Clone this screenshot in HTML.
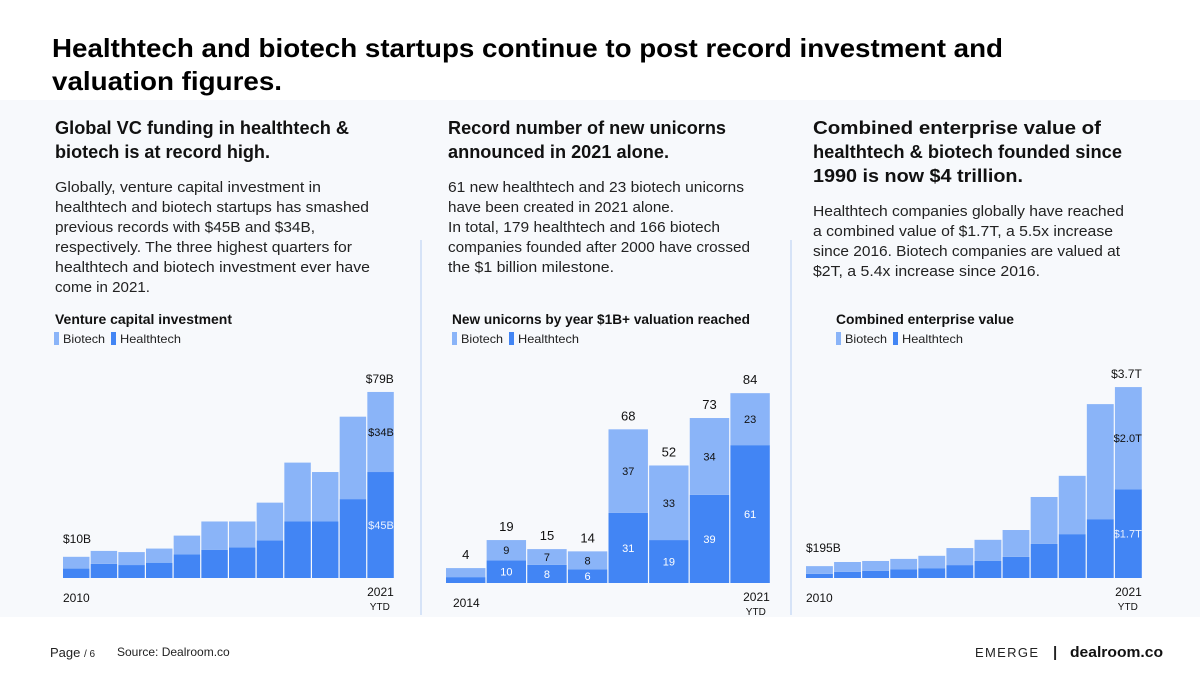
<!DOCTYPE html>
<html><head><meta charset="utf-8"><style>
html,body{margin:0;padding:0;background:#fff;}
svg{display:block;font-family:"Liberation Sans",sans-serif;}
</style></head><body>
<svg id="s" width="1200" height="675" viewBox="0 0 1200 675" xmlns="http://www.w3.org/2000/svg">
<rect x="0" y="0" width="1200" height="675" fill="#ffffff"/>
<rect x="0" y="100" width="1200" height="517" fill="#f7f9fc"/>
<line x1="421" y1="240" x2="421" y2="615" stroke="#d6e3f7" stroke-width="2"/>
<line x1="791" y1="240" x2="791" y2="615" stroke="#d6e3f7" stroke-width="2"/>

<g fill="#000" font-weight="bold">
<text x="52" y="57" font-size="26" textLength="951" lengthAdjust="spacingAndGlyphs">Healthtech and biotech  startups continue to post record investment and</text>
<text x="52" y="90" font-size="26" textLength="230" lengthAdjust="spacingAndGlyphs">valuation figures.</text>
</g>

<g fill="#111" font-weight="bold" font-size="18">
<text x="55" y="134" textLength="294" lengthAdjust="spacingAndGlyphs">Global VC funding in healthtech &amp;</text>
<text x="55" y="158" textLength="215" lengthAdjust="spacingAndGlyphs">biotech is at record high.</text>
<text x="448" y="134" textLength="278" lengthAdjust="spacingAndGlyphs">Record number of new unicorns</text>
<text x="448" y="158" textLength="221" lengthAdjust="spacingAndGlyphs">announced in 2021 alone.</text>
<text x="813" y="134" textLength="288" lengthAdjust="spacingAndGlyphs">Combined enterprise value of</text>
<text x="813" y="158" textLength="309" lengthAdjust="spacingAndGlyphs">healthtech &amp; biotech founded since</text>
<text x="813" y="182" textLength="210" lengthAdjust="spacingAndGlyphs">1990 is now $4 trillion.</text>
</g>

<g fill="#222" font-size="15">
<text x="55" y="192" textLength="266" lengthAdjust="spacingAndGlyphs">Globally, venture capital investment in</text>
<text x="55" y="212" textLength="314" lengthAdjust="spacingAndGlyphs">healthtech and biotech startups has smashed</text>
<text x="55" y="232" textLength="260" lengthAdjust="spacingAndGlyphs">previous records with $45B and $34B,</text>
<text x="55" y="252" textLength="297" lengthAdjust="spacingAndGlyphs">respectively. The three highest quarters for</text>
<text x="55" y="272" textLength="315" lengthAdjust="spacingAndGlyphs">healthtech and  biotech investment ever have</text>
<text x="55" y="292" textLength="95" lengthAdjust="spacingAndGlyphs">come in 2021.</text>
<text x="448" y="192" textLength="296" lengthAdjust="spacingAndGlyphs">61 new healthtech and 23 biotech unicorns</text>
<text x="448" y="212" textLength="226" lengthAdjust="spacingAndGlyphs">have been created in 2021 alone.</text>
<text x="448" y="232" textLength="272" lengthAdjust="spacingAndGlyphs">In total, 179 healthtech and 166 biotech</text>
<text x="448" y="252" textLength="302" lengthAdjust="spacingAndGlyphs">companies founded after 2000 have crossed</text>
<text x="448" y="272" textLength="166" lengthAdjust="spacingAndGlyphs">the $1 billion milestone.</text>
<text x="813" y="216" textLength="311" lengthAdjust="spacingAndGlyphs">Healthtech companies globally have reached</text>
<text x="813" y="236" textLength="300" lengthAdjust="spacingAndGlyphs">a combined value of $1.7T, a 5.5x increase</text>
<text x="813" y="256" textLength="307" lengthAdjust="spacingAndGlyphs">since 2016. Biotech companies are valued at</text>
<text x="813" y="276" textLength="227" lengthAdjust="spacingAndGlyphs">$2T, a 5.4x increase since 2016.</text>
</g>

<g font-size="14" font-weight="bold" fill="#111">
<text x="55" y="324" textLength="177" lengthAdjust="spacingAndGlyphs">Venture capital investment</text>
<text x="452" y="324" textLength="298" lengthAdjust="spacingAndGlyphs">New unicorns by year $1B+ valuation reached</text>
<text x="836" y="324" textLength="178" lengthAdjust="spacingAndGlyphs">Combined enterprise value</text>
</g>

<g font-size="12" fill="#222">
<g>
<rect x="54" y="332" width="5" height="13" fill="#8ab4f8"/>
<text x="63" y="343" textLength="42" lengthAdjust="spacingAndGlyphs">Biotech</text>
<rect x="111" y="332" width="5" height="13" fill="#4285f4"/>
<text x="120" y="343" textLength="61" lengthAdjust="spacingAndGlyphs">Healthtech</text>
</g>
<g>
<rect x="452" y="332" width="5" height="13" fill="#8ab4f8"/>
<text x="461" y="343" textLength="42" lengthAdjust="spacingAndGlyphs">Biotech</text>
<rect x="509" y="332" width="5" height="13" fill="#4285f4"/>
<text x="518" y="343" textLength="61" lengthAdjust="spacingAndGlyphs">Healthtech</text>
</g>
<g>
<rect x="836" y="332" width="5" height="13" fill="#8ab4f8"/>
<text x="845" y="343" textLength="42" lengthAdjust="spacingAndGlyphs">Biotech</text>
<rect x="893" y="332" width="5" height="13" fill="#4285f4"/>
<text x="902" y="343" textLength="61" lengthAdjust="spacingAndGlyphs">Healthtech</text>
</g>
</g>

<g id="charts"></g>

<g>
<text x="50" y="657" font-size="13" fill="#222">Page <tspan font-size="10">/ 6</tspan></text>
<text x="117" y="656" font-size="12" fill="#222">Source: Dealroom.co</text>
<text x="975" y="657" font-size="13" fill="#222" letter-spacing="3" textLength="66" lengthAdjust="spacing">EMERGE</text>
<text x="1053" y="657" font-size="15" fill="#222" font-weight="bold">|</text>
<text x="1070" y="657" font-size="15" fill="#111" font-weight="bold" textLength="93" lengthAdjust="spacingAndGlyphs">dealroom.co</text>
</g>
</svg>

<script>
// Chart 1: Venture capital investment ($B)
const vcYears = ["2010","2011","2012","2013","2014","2015","2016","2017","2018","2019","2020","2021"];
const vcBiotech = [5, 5.5, 5.5, 6, 8, 12, 11, 16, 25, 21, 35, 34];
const vcHealthtech = [4, 6, 5.5, 6.5, 10, 12, 13, 16, 24, 24, 33.5, 45];
// Chart 2: New unicorns
const uniYears = ["2014","2015","2016","2017","2018","2019","2020","2021"];
const uniBiotech = [4, 9, 7, 8, 37, 33, 34, 23];
const uniHealthtech = [2.6, 10, 8, 6, 31, 19, 39, 61];
const uniTotals = [4, 19, 15, 14, 68, 52, 73, 84];
// Chart 3: Combined enterprise value ($T)
const evYears = ["2010","2011","2012","2013","2014","2015","2016","2017","2018","2019","2020","2021"];
const evBiotech = [0.15, 0.19, 0.19, 0.2, 0.24, 0.33, 0.41, 0.52, 0.91, 1.13, 2.23, 1.98];
const evHealthtech = [0.08, 0.12, 0.14, 0.17, 0.19, 0.25, 0.33, 0.41, 0.66, 0.85, 1.14, 1.72];

const NS = "http://www.w3.org/2000/svg";
const root = document.getElementById("charts");
const LIGHT = "#8ab4f8", DARK = "#4285f4";

function mk(tag, attrs, parent) {
  const e = document.createElementNS(NS, tag);
  for (const k in attrs) e.setAttribute(k, attrs[k]);
  parent.appendChild(e);
  return e;
}
function label(parent, x, y, str, size, fill, anchor) {
  const t = mk("text", {x: x, y: y, "font-size": size, fill: fill, "text-anchor": anchor}, parent);
  t.textContent = str;
  
  
  return t;
}

function drawChart(cfg) {
  const g = mk("g", {}, root);
  
  
  const n = cfg.years.length;
  const step = (cfg.x1 - cfg.x0) / n;
  const w = step - 1.2;
  const xAt = i => cfg.x0 + i * step;
  const yAt = v => cfg.base - v * cfg.scale;
  for (let i = 0; i < n; i++) {
    const h = cfg.health[i], b = cfg.bio[i];
    const r1 = mk("rect", {x: xAt(i), y: yAt(h), width: w, height: cfg.base - yAt(h), fill: DARK}, g);
    
    
    const r2 = mk("rect", {x: xAt(i), y: yAt(h + b), width: w, height: yAt(h) - yAt(h + b), fill: LIGHT}, g);
    
    
    if (cfg.totals) {
      label(g, xAt(i) + w / 2, yAt(h + b) - 9, String(cfg.totals[i]), 13, "#111", "middle");
      if (i > 0) {
        label(g, xAt(i) + w / 2, (yAt(h) + yAt(h + b)) / 2 + 4, String(b), 11, "#111", "middle");
        label(g, xAt(i) + w / 2, (cfg.base + yAt(h)) / 2 + 4, String(h), 11, "#fff", "middle");
      }
    }
  }
  if (cfg.firstLabel) label(g, xAt(0), yAt(cfg.health[0] + cfg.bio[0]) - 14, cfg.firstLabel(cfg.health[0] + cfg.bio[0]), 12, "#111", "start");
  if (cfg.lastLabels) {
    const L = n - 1, h = cfg.health[L], b = cfg.bio[L];
    const xr = xAt(L) + w;
    label(g, xr, yAt(h + b) - 9, cfg.lastLabels[0](h + b), 12, "#111", "end");
    label(g, xr, (yAt(h) + yAt(h + b)) / 2 + 4, cfg.lastLabels[1](b), 11, "#111", "end");
    label(g, xr, (cfg.base + yAt(h)) / 2 + 4, cfg.lastLabels[2](h), 11, "#e8f0fe", "end");
  }
  const a1 = mk("text", {x: xAt(0) + (cfg.firstYearOffset || 0), y: cfg.base + 24, "font-size": 12, fill: "#111"}, g);
  a1.textContent = cfg.years[0];
  
  
  const xr = xAt(n - 1) + w;
  const a2 = mk("text", {x: xr, y: cfg.base + 18, "font-size": 12, fill: "#111", "text-anchor": "end"}, g);
  a2.textContent = cfg.years[n - 1];
  
  
  const a3 = mk("text", {x: xr - 14, y: cfg.base + 32, "font-size": 10, fill: "#111", "text-anchor": "middle"}, g);
  a3.textContent = "YTD";
  
  
}

drawChart({name: "vc-investment-chart", years: vcYears, bio: vcBiotech, health: vcHealthtech,
  x0: 63, x1: 395, base: 578, scale: 2.355,
  firstLabel: v => "$10B",
  lastLabels: [v => "$" + Math.round(v) + "B", v => "$" + Math.round(v) + "B", v => "$" + Math.round(v) + "B"]});
drawChart({name: "unicorns-chart", years: uniYears, bio: uniBiotech, health: uniHealthtech, totals: uniTotals,
  x0: 446, x1: 771, base: 583, scale: 2.26, firstYearOffset: 7});
drawChart({name: "enterprise-value-chart", years: evYears, bio: evBiotech, health: evHealthtech,
  x0: 806, x1: 1143, base: 578, scale: 51.6, firstYearOffset: 0,
  firstLabel: v => "$" + Math.round(v * 850) + "B",
  lastLabels: [v => "$" + v.toFixed(1) + "T", v => "$" + v.toFixed(1) + "T", v => "$" + v.toFixed(1) + "T"]});
</script>
</body></html>
